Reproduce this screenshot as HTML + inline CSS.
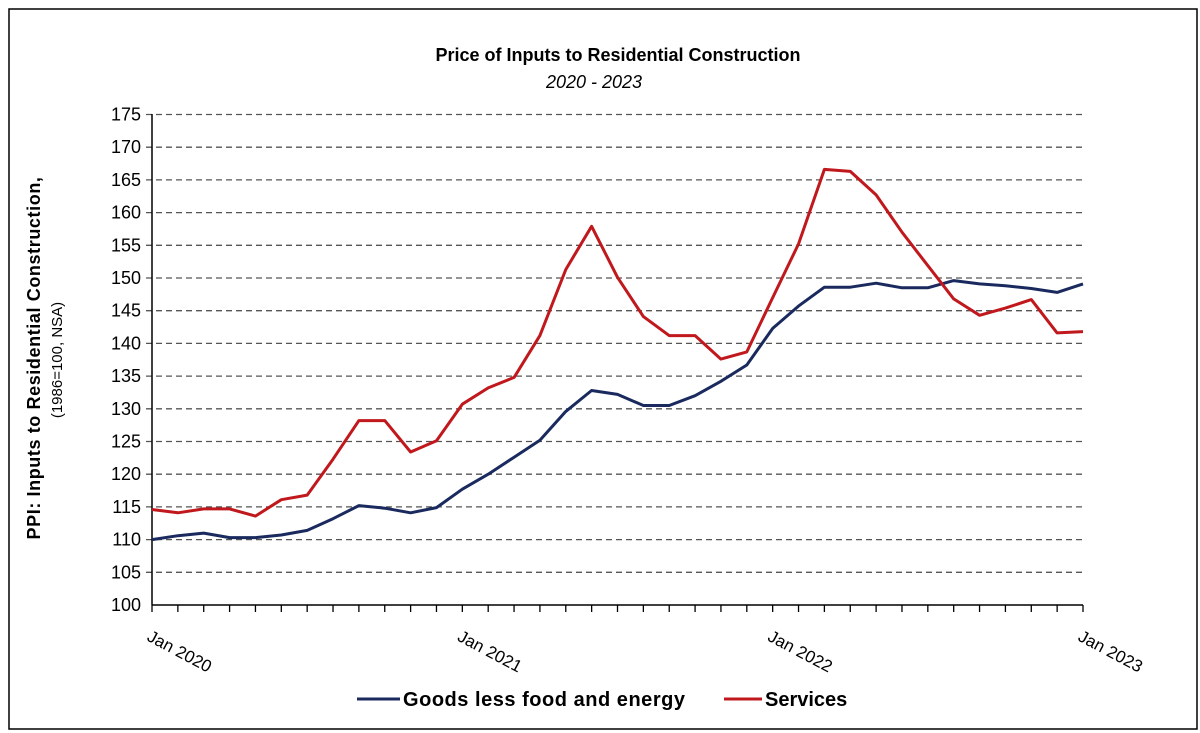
<!DOCTYPE html>
<html><head><meta charset="utf-8"><style>
html,body{margin:0;padding:0;background:#fff;}
svg{display:block;font-family:"Liberation Sans",sans-serif;}
</style></head><body>
<svg id="c" width="1200" height="733" xmlns="http://www.w3.org/2000/svg">
<rect x="9" y="9" width="1188" height="720" fill="#fff" stroke="#000" stroke-width="1.5"/>
<text x="618" y="61" text-anchor="middle" font-size="18" font-weight="bold">Price of Inputs to Residential Construction</text>
<text x="594" y="88" text-anchor="middle" font-size="18" font-style="italic">2020 - 2023</text>
<g id="g"></g>
<text transform="translate(40,358) rotate(-90)" text-anchor="middle" font-size="18" font-weight="bold" letter-spacing="0.6">PPI: Inputs to Residential Construction,</text>
<text transform="translate(62,360) rotate(-90)" text-anchor="middle" font-size="15">(1986=100, NSA)</text>
<line x1="357" y1="699" x2="400" y2="699" stroke="#1a2a5e" stroke-width="3"/>
<text x="403" y="706" font-size="20" font-weight="bold" textLength="282">Goods less food and energy</text>
<line x1="724" y1="699" x2="762" y2="699" stroke="#c0181c" stroke-width="3"/>
<text x="765" y="706" font-size="20" font-weight="bold">Services</text>
</svg>
<script>
var g=document.getElementById('g'),h='';
var X0=152,X1=1083,Y=function(v){return 605-(v-100)*6.54;},X=function(i){return X0+(X1-X0)*i/36;};
for(var v=100;v<=175;v+=5){var y=Y(v);
 if(v>100)h+='<line x1="146" y1="'+y+'" x2="1083" y2="'+y+'" stroke="#555" stroke-width="1.3" stroke-dasharray="6,4"/>';
 h+='<text x="141" y="'+(y+6)+'" text-anchor="end" font-size="18">'+v+'</text>';}
h+='<line x1="'+X0+'" y1="114" x2="'+X0+'" y2="605" stroke="#000" stroke-width="1.5"/>';
h+='<line x1="'+X0+'" y1="605" x2="'+X1+'" y2="605" stroke="#000" stroke-width="1.5"/>';
for(var i=0;i<=36;i++){var x=X(i);h+='<line x1="'+x+'" y1="605" x2="'+x+'" y2="612" stroke="#000" stroke-width="1.3"/>';}
var yrs=['Jan 2020','Jan 2021','Jan 2022','Jan 2023'];
for(var k=0;k<4;k++){var x=X(k*12);h+='<text transform="translate('+(x-6)+',640) rotate(28)" font-size="17">'+yrs[k]+'</text>';}
var a=[110,110.6,111,110.3,110.3,110.7,111.4,113.2,115.2,114.8,114.1,114.9,117.7,120,122.6,125.2,129.6,132.8,132.2,130.5,130.5,132,134.2,136.7,142.3,145.7,148.6,148.6,149.2,148.5,148.5,149.6,149.1,148.8,148.4,147.8,149.1];
var b=[114.6,114.1,114.7,114.7,113.6,116.1,116.8,122.3,128.2,128.2,123.4,125.1,130.7,133.2,134.8,141.2,151.3,157.9,150.1,144.1,141.2,141.2,137.6,138.7,147,155.2,166.6,166.3,162.7,157,151.9,146.8,144.3,145.4,146.7,141.6,141.8];
function p(d,c){return '<polyline fill="none" stroke="'+c+'" stroke-width="3" stroke-linejoin="round" points="'+d.map(function(v,i){return X(i).toFixed(1)+','+Y(v).toFixed(1);}).join(' ')+'"/>';}
h+=p(a,'#1a2a5e')+p(b,'#c0181c');
g.innerHTML=h;
</script>
</body></html>
